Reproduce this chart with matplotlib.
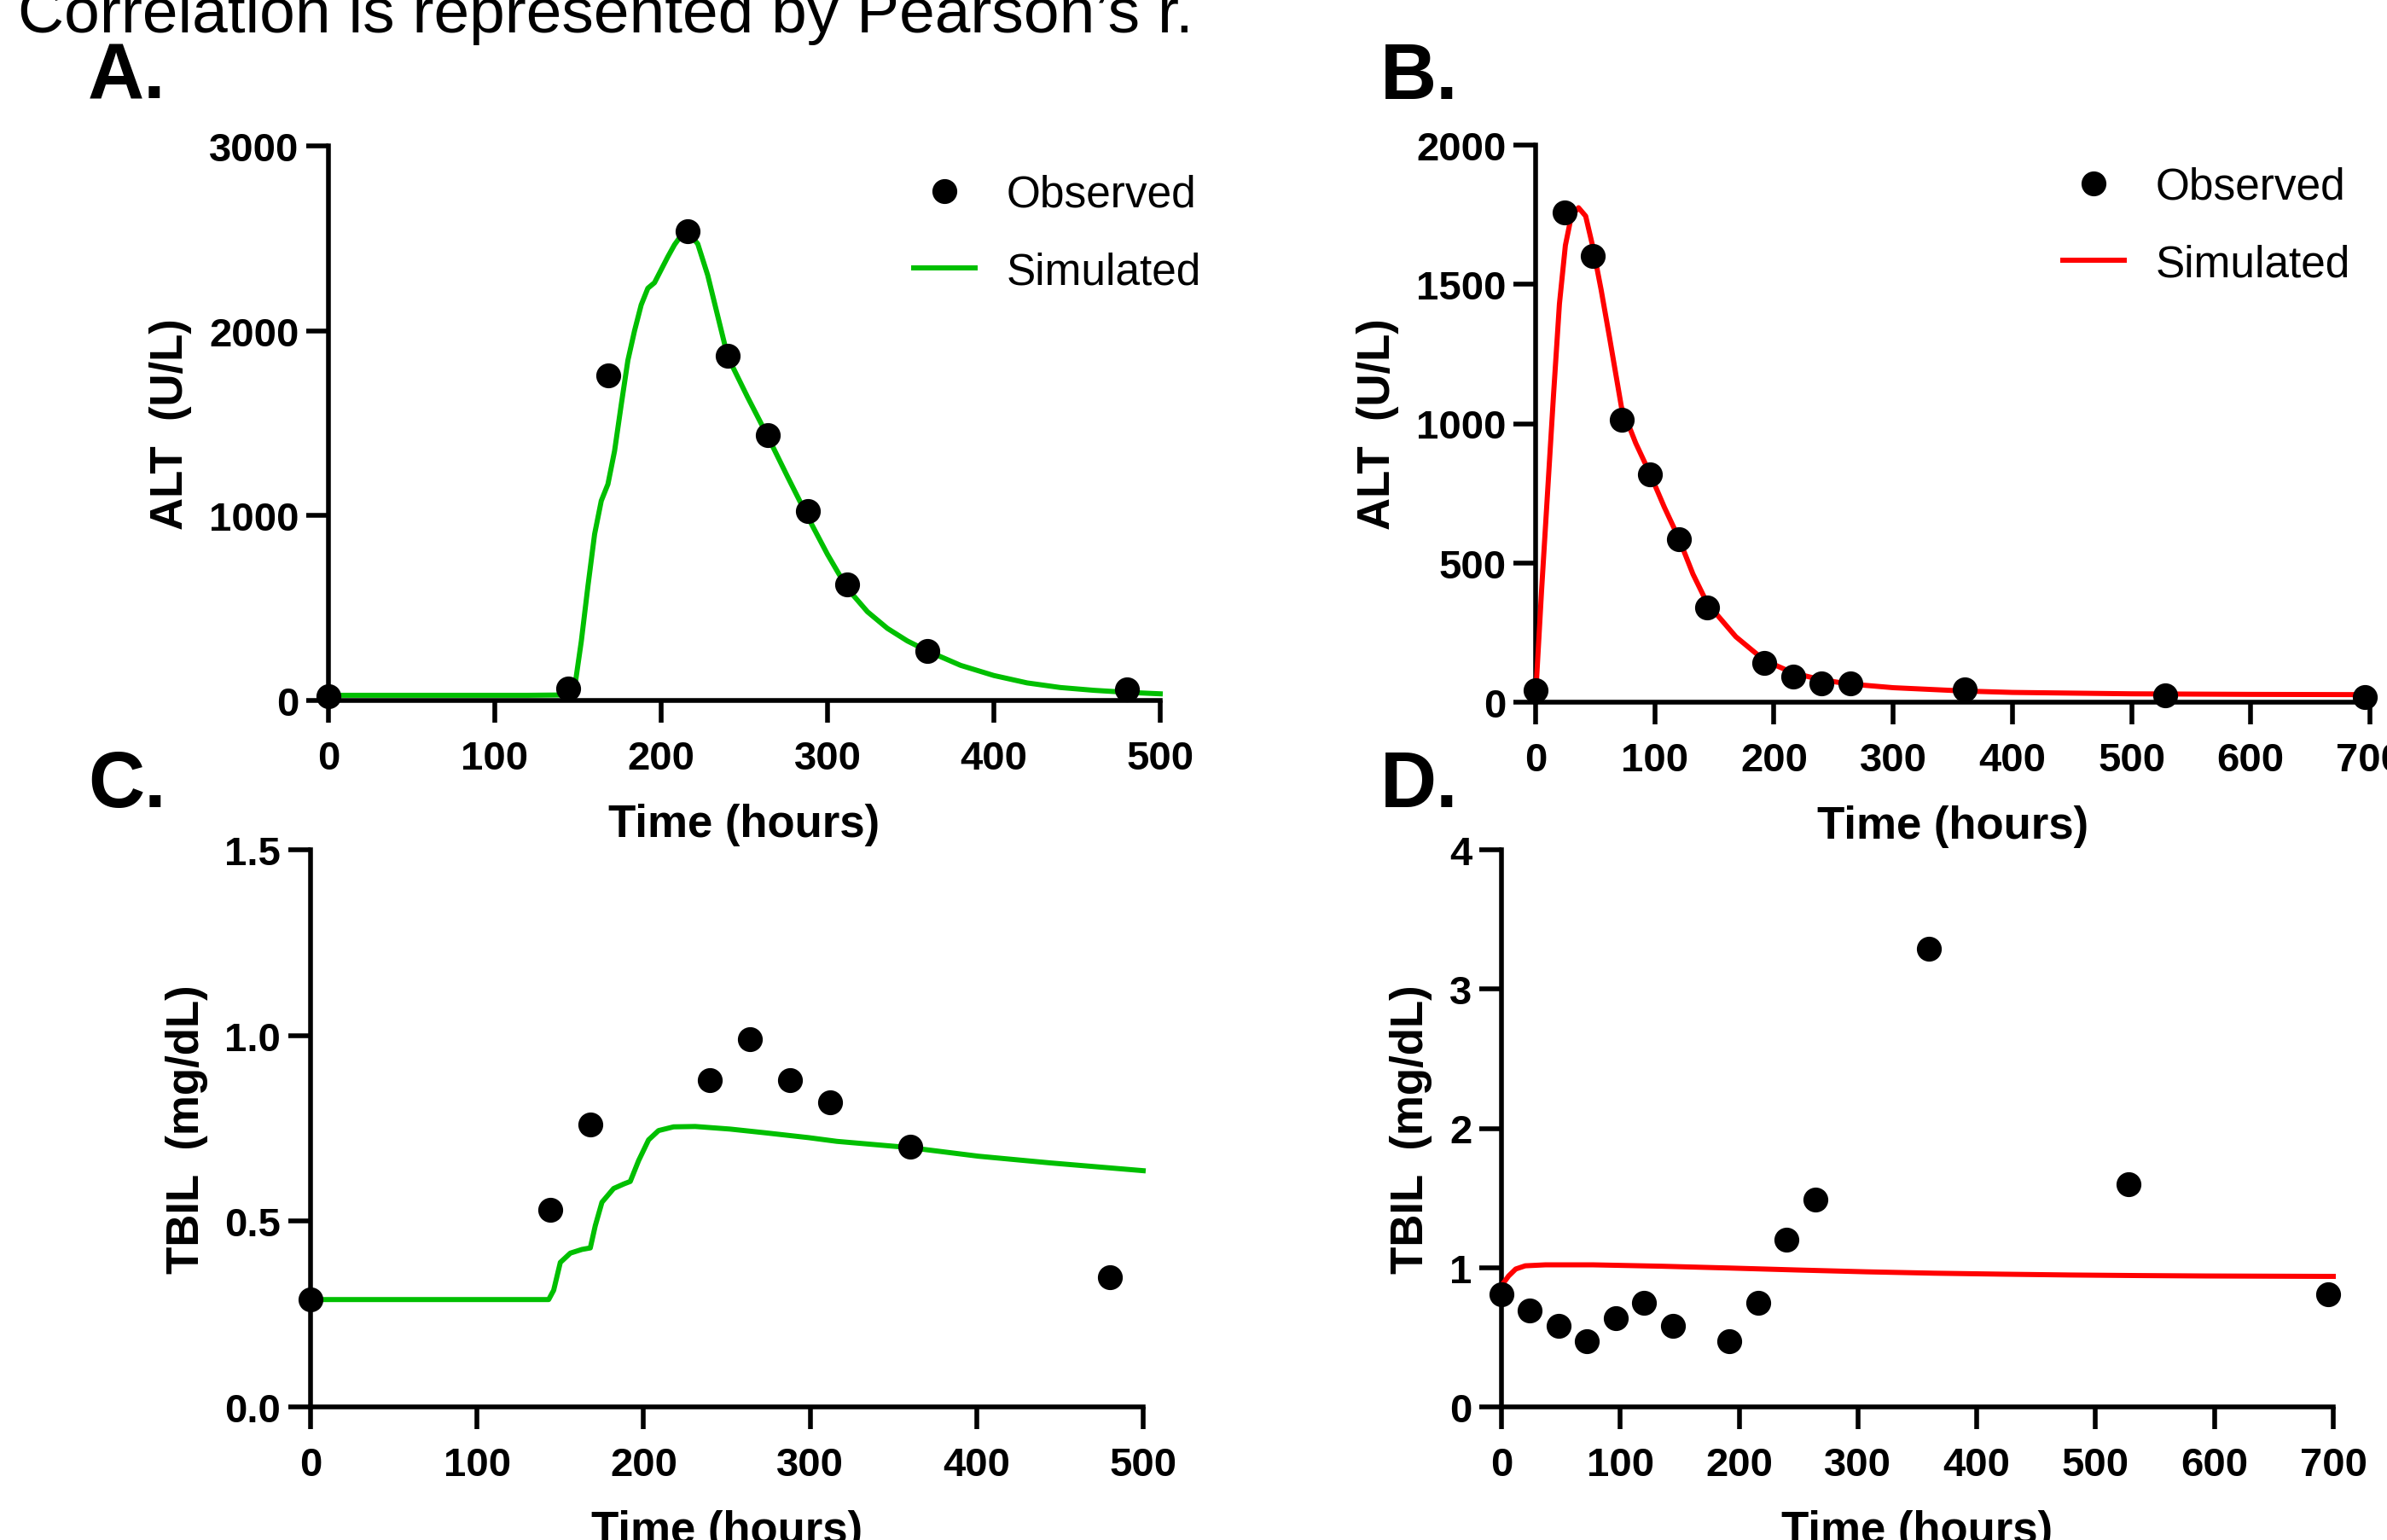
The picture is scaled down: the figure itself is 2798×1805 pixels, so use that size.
import matplotlib
matplotlib.use("Agg")
import matplotlib.pyplot as plt

plt.rcParams['font.family'] = ['Liberation Sans', 'DejaVu Sans']

# ---------------- data ----------------
# Panel A: ALT, case 1
a_obs_t = [0, 144, 168, 216, 240, 264, 288, 312, 360, 480]
a_obs_alt = [25, 66, 1760, 2540, 1865, 1435, 1025, 630, 270, 58]
a_sim_t = [0, 60, 120, 144, 148, 152, 156, 160, 164, 168, 172, 176, 180, 184, 188, 192,
           196, 200, 204, 208, 212, 216, 222, 228, 234, 240, 252, 264, 276, 288, 300, 312,
           324, 336, 348, 360, 380, 400, 420, 440, 460, 480, 500]
a_sim_alt = [28, 28, 28, 30, 70, 320, 620, 900, 1080, 1170, 1350, 1600, 1840, 2000, 2140, 2230,
             2260, 2330, 2400, 2465, 2515, 2535, 2470, 2300, 2080, 1860, 1640, 1430, 1210, 995, 790, 605,
             480, 390, 322, 268, 190, 135, 95, 70, 55, 44, 36]

# Panel B: ALT, case 2
b_obs_t = [0, 24, 48, 72, 96, 120, 144, 192, 216, 240, 264, 360, 528, 696]
b_obs_alt = [44, 1757, 1601, 1015, 817, 584, 339, 141, 93, 68, 68, 47, 25, 18]
b_sim_t = [0, 5, 10, 15, 20, 25, 30, 36, 42, 48, 55, 62, 72, 84, 96, 108, 120, 132, 144,
           168, 192, 216, 240, 264, 300, 360, 400, 500, 600, 700]
b_sim_alt = [20, 400, 750, 1100, 1430, 1640, 1745, 1775, 1745, 1635, 1480, 1310, 1060, 930, 820, 700, 590, 460, 355,
             235, 150, 105, 80, 65, 52, 40, 35, 30, 28, 27]

# Panel C: TBIL, case 1
c_obs_t = [0, 144, 168, 240, 264, 288, 312, 360, 480]
c_obs_tbil = [0.29, 0.53, 0.76, 0.88, 0.99, 0.88, 0.82, 0.70, 0.35]
c_sim_t = [0, 100, 143, 146, 150, 156, 163, 168, 171, 175, 182, 188, 192, 197, 203, 209,
           218, 231, 252, 273, 299, 316, 360, 401, 444, 500]
c_sim_tbil = [0.289, 0.289, 0.289, 0.314, 0.389, 0.414, 0.424, 0.428, 0.488, 0.551, 0.588, 0.600, 0.607, 0.663, 0.719, 0.744,
              0.754, 0.755, 0.748, 0.738, 0.725, 0.715, 0.698, 0.675, 0.657, 0.636]

# Panel D: TBIL, case 2
d_obs_t = [0, 24, 48, 72, 96, 120, 144, 192, 216, 240, 264, 360, 528, 696]
d_obs_tbil = [0.81, 0.69, 0.58, 0.47, 0.64, 0.75, 0.58, 0.47, 0.75, 1.20, 1.49, 3.29, 1.60, 0.81]
d_sim_t = [0, 6, 12, 20, 37, 77, 135, 192, 249, 307, 364, 421, 479, 536, 593, 700]
d_sim_tbil = [0.87, 0.94, 0.99, 1.013, 1.02, 1.02, 1.01, 0.997, 0.983, 0.970, 0.960, 0.953, 0.947, 0.943, 0.940, 0.937]

title_text = "Correlation is represented by Pearson\u2019s r."
panel_letters = ["A.", "B.", "C.", "D."]
x_label = "Time (hours)"
alt_label = "ALT  (U/L)"
tbil_label = "TBIL  (mg/dL)"

GREEN = "#00BF00"
RED = "#FF0000"

W, H = 2798, 1806
fig = plt.figure(figsize=(W / 100, H / 100), dpi=100)


def axes_px(left, right, top, bottom):
    return fig.add_axes([left / W, 1 - bottom / H, (right - left) / W, (bottom - top) / H])


def style(ax, xmax, xstep, ymax, yticks, yticklabels, ylabel):
    ax.set_xlim(0, xmax)
    ax.set_ylim(0, ymax)
    ax.set_xticks(range(0, xmax + 1, xstep))
    ax.set_yticks(yticks)
    ax.set_yticklabels(yticklabels)
    for s in ['top', 'right']:
        ax.spines[s].set_visible(False)
    for s in ['left', 'bottom']:
        ax.spines[s].set_linewidth(4)
    ax.tick_params(axis='both', direction='out', length=19, width=4, labelsize=34, colors='black')
    ax.tick_params(axis='x', pad=14)
    ax.tick_params(axis='y', pad=6)
    for lab in ax.get_xticklabels() + ax.get_yticklabels():
        lab.set_fontweight('bold')
    ax.set_xlabel(x_label, fontsize=38, fontweight='bold', labelpad=22)
    ax.set_ylabel(ylabel, fontsize=38, fontweight='bold', labelpad=14)


def draw(ax, obs_t, obs_y, sim_t, sim_y, color):
    ax.plot(obs_t, obs_y, 'o', color='black', markersize=20, label='Observed', clip_on=False, zorder=5)
    ax.plot(sim_t, sim_y, '-', color=color, linewidth=4.3, label='Simulated', clip_on=False, zorder=3)


axA = axes_px(385, 1360, 172, 822)
axB = axes_px(1800, 2778, 171, 824)
axC = axes_px(364, 1340, 997, 1650)
axD = axes_px(1760, 2735, 997, 1650)

draw(axA, a_obs_t, a_obs_alt, a_sim_t, a_sim_alt, GREEN)
style(axA, 500, 100, 3000, [0, 1000, 2000, 3000], ['0', '1000', '2000', '3000'], alt_label)

draw(axB, b_obs_t, b_obs_alt, b_sim_t, b_sim_alt, RED)
style(axB, 700, 100, 2000, [0, 500, 1000, 1500, 2000], ['0', '500', '1000', '1500', '2000'], alt_label)

draw(axC, c_obs_t, c_obs_tbil, c_sim_t, c_sim_tbil, GREEN)
style(axC, 500, 100, 1.5, [0, 0.5, 1.0, 1.5], ['0.0', '0.5', '1.0', '1.5'], tbil_label)

draw(axD, d_obs_t, d_obs_tbil, d_sim_t, d_sim_tbil, RED)
style(axD, 700, 100, 4, [0, 1, 2, 3, 4], ['0', '1', '2', '3', '4'], tbil_label)

legend_kw = dict(frameon=False, fontsize=37, handlelength=1.4, handletextpad=0.72,
                 labelspacing=0.8, borderpad=0, borderaxespad=0, loc='upper left',
                 bbox_transform=fig.transFigure)
axA.legend(bbox_to_anchor=(1071 / W, 1 - 205 / H), **legend_kw)
axB.legend(bbox_to_anchor=(2418 / W, 1 - 196 / H), **legend_kw)

# panel letters
for (x, y), letter in zip([(103, 116), (1618, 116), (103, 946), (1618, 946)], panel_letters):
    fig.text(x / W, 1 - y / H, letter, fontsize=66, fontweight='bold', va='baseline', ha='left')

fig.text(21 / W, 1 - 38 / H, title_text, fontsize=54, va='baseline', ha='left')

fig.savefig("out.png", dpi=100)
